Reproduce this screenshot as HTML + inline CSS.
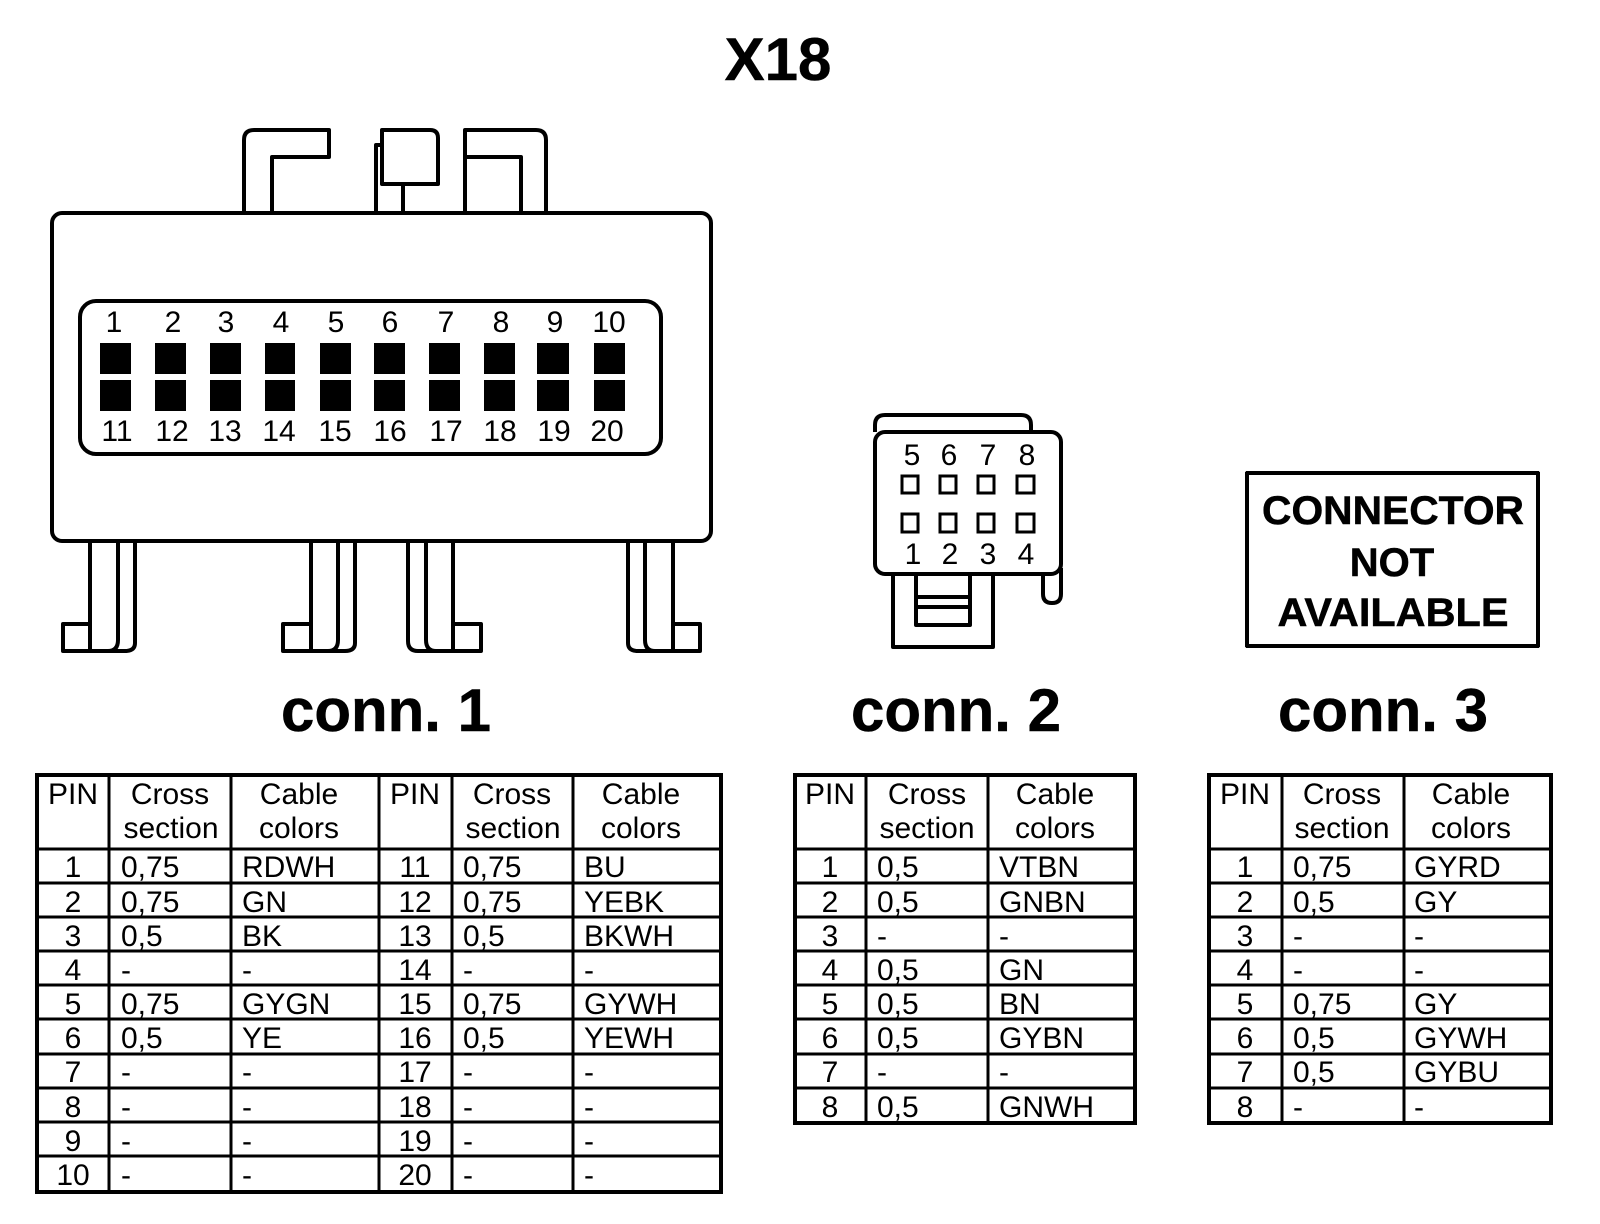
<!DOCTYPE html>
<html><head><meta charset="utf-8"><style>
html,body{margin:0;padding:0;background:#fff}
svg{display:block}
text{font-family:"Liberation Sans",Arial,sans-serif;fill:#000}
.t{font-size:30px}
.p{font-size:30px;text-anchor:middle}
.m{text-anchor:middle}
.b{font-weight:bold;stroke:#000;stroke-width:.5}
.l{fill:none;stroke:#000;stroke-width:4;stroke-linejoin:round}
.g{stroke:#000;stroke-width:3.4;fill:none;shape-rendering:crispEdges}
</style></head><body>
<svg width="1600" height="1224" viewBox="0 0 1600 1224" xmlns="http://www.w3.org/2000/svg">
<text x="778" y="80" class="b m" font-size="60">X18</text>

<!-- connector 1 -->
<path class="l" d="M244 212V140Q244 130 254 130H329V157H272V212"/>
<path class="l" d="M376 212V145H382M403 184V212"/>
<path class="l" d="M382 130H430Q438 130 438 138V184H382Z"/>
<path class="l" d="M465 212V130H536Q546 130 546 140V212M465 157H521V212"/>
<rect class="l" x="52" y="213" width="659" height="328" rx="10"/>
<rect class="l" x="80" y="301" width="581" height="153" rx="16"/>
<g fill="#000" shape-rendering="crispEdges">
<rect x="100" y="343" width="31" height="31"/><rect x="155" y="343" width="31" height="31"/><rect x="210" y="343" width="31" height="31"/><rect x="265" y="343" width="30" height="31"/><rect x="320" y="343" width="31" height="31"/><rect x="374" y="343" width="31" height="31"/><rect x="429" y="343" width="31" height="31"/><rect x="484" y="343" width="31" height="31"/><rect x="537" y="343" width="32" height="31"/><rect x="594" y="343" width="31" height="31"/>
<rect x="100" y="380" width="31" height="31"/><rect x="155" y="380" width="31" height="31"/><rect x="210" y="380" width="31" height="31"/><rect x="265" y="380" width="30" height="31"/><rect x="320" y="380" width="31" height="31"/><rect x="374" y="380" width="31" height="31"/><rect x="429" y="380" width="31" height="31"/><rect x="484" y="380" width="31" height="31"/><rect x="537" y="380" width="32" height="31"/><rect x="594" y="380" width="31" height="31"/>
</g>
<text class="p" x="114" y="332">1</text><text class="p" x="173" y="332">2</text><text class="p" x="226" y="332">3</text><text class="p" x="281" y="332">4</text><text class="p" x="336" y="332">5</text><text class="p" x="390" y="332">6</text><text class="p" x="446" y="332">7</text><text class="p" x="501" y="332">8</text><text class="p" x="555" y="332">9</text><text class="p" x="609" y="332">10</text>
<text class="p" x="117" y="441">11</text><text class="p" x="172" y="441">12</text><text class="p" x="225" y="441">13</text><text class="p" x="279" y="441">14</text><text class="p" x="335" y="441">15</text><text class="p" x="390" y="441">16</text><text class="p" x="446" y="441">17</text><text class="p" x="500" y="441">18</text><text class="p" x="554" y="441">19</text><text class="p" x="607" y="441">20</text>
<!-- feet -->
<path class="l" d="M90 541V651M118 541V640Q118 651 108 651M135 541V643Q135 651 125 651H63V624H90"/>
<path class="l" d="M311 541V651M338 541V640Q338 651 328 651M355 541V643Q355 651 345 651H283V624H311"/>
<path class="l" d="M453 541V651M426 541V640Q426 651 436 651M408 541V641Q408 651 418 651H481V624H453"/>
<path class="l" d="M673 541V651M645 541V640Q645 651 655 651M628 541V643Q628 651 638 651H700V624H673"/>

<!-- connector 2 -->
<path class="l" d="M875 432V425Q875 415 885 415H1021Q1031 415 1031 425V433"/>
<rect class="l" x="875" y="432" width="186" height="142" rx="10"/>
<path class="l" d="M893 575V647H993V575M916 575V625H970V575M916 597H970M916 607H970"/>
<path class="l" d="M1043 575V594Q1043 603 1052 603Q1061 603 1061 594V568"/>
<g class="g" stroke-width="3.5">
<rect x="902" y="476" width="16" height="17"/><rect x="940" y="476" width="16" height="17"/><rect x="978" y="476" width="16" height="17"/><rect x="1017" y="476" width="17" height="17"/>
<rect x="902" y="514" width="16" height="18"/><rect x="940" y="514" width="16" height="18"/><rect x="978" y="514" width="16" height="18"/><rect x="1017" y="514" width="17" height="18"/>
</g>
<text class="p" x="912" y="465">5</text><text class="p" x="949" y="465">6</text><text class="p" x="988" y="465">7</text><text class="p" x="1027" y="465">8</text>
<text class="p" x="913" y="564">1</text><text class="p" x="950" y="564">2</text><text class="p" x="988" y="564">3</text><text class="p" x="1026" y="564">4</text>

<!-- connector 3 -->
<rect class="l" x="1247" y="473" width="291" height="173" style="shape-rendering:crispEdges"/>
<text x="1400" y="524" class="b m" font-size="40" textLength="262" lengthAdjust="spacingAndGlyphs" dx="-7">CONNECTOR</text>
<text x="1399" y="576" class="b m" font-size="40" dx="-7">NOT</text>
<text x="1400" y="626" class="b m" font-size="40" textLength="231" lengthAdjust="spacingAndGlyphs" dx="-7">AVAILABLE</text>

<text x="386" y="731" class="b m" font-size="60">conn. 1</text>
<text x="956" y="731" class="b m" font-size="60">conn. 2</text>
<text x="1383" y="731" class="b m" font-size="60">conn. 3</text>

<!-- table 1 -->
<g class="g">
<rect x="37" y="775" width="684" height="417" stroke-width="4"/>
<path d="M109 775V1192M231 775V1192M379 775V1192M452 775V1192M573 775V1192"/>
<path d="M37 849H721M37 883H721M37 917H721M37 951H721M37 985H721M37 1019H721M37 1054H721M37 1088H721M37 1122H721M37 1156H721"/>
</g>
<g transform="translate(0,-1.5)">
<text class="p" x="73" y="805.5">PIN</text><text class="p" x="170" y="805.5">Cross</text><text class="p" x="171" y="839.5">section</text><text class="p" x="299" y="805.5">Cable</text><text class="p" x="299" y="839.5">colors</text>
<text class="p" x="415" y="805.5">PIN</text><text class="p" x="512" y="805.5">Cross</text><text class="p" x="513" y="839.5">section</text><text class="p" x="641" y="805.5">Cable</text><text class="p" x="641" y="839.5">colors</text>
<g class="t" transform="translate(0,0.7)">
<text class="p" x="73" y="878">1</text><text x="121" y="878">0,75</text><text x="242" y="878">RDWH</text><text class="p" x="415" y="878">11</text><text x="463" y="878">0,75</text><text x="584" y="878">BU</text>
<text class="p" x="73" y="913">2</text><text x="121" y="913">0,75</text><text x="242" y="913">GN</text><text class="p" x="415" y="913">12</text><text x="463" y="913">0,75</text><text x="584" y="913">YEBK</text>
<text class="p" x="73" y="947">3</text><text x="121" y="947">0,5</text><text x="242" y="947">BK</text><text class="p" x="415" y="947">13</text><text x="463" y="947">0,5</text><text x="584" y="947">BKWH</text>
<text class="p" x="73" y="981">4</text><text x="121" y="981">-</text><text x="242" y="981">-</text><text class="p" x="415" y="981">14</text><text x="463" y="981">-</text><text x="584" y="981">-</text>
<text class="p" x="73" y="1015">5</text><text x="121" y="1015">0,75</text><text x="242" y="1015">GYGN</text><text class="p" x="415" y="1015">15</text><text x="463" y="1015">0,75</text><text x="584" y="1015">GYWH</text>
<text class="p" x="73" y="1049">6</text><text x="121" y="1049">0,5</text><text x="242" y="1049">YE</text><text class="p" x="415" y="1049">16</text><text x="463" y="1049">0,5</text><text x="584" y="1049">YEWH</text>
<text class="p" x="73" y="1083">7</text><text x="121" y="1083">-</text><text x="242" y="1083">-</text><text class="p" x="415" y="1083">17</text><text x="463" y="1083">-</text><text x="584" y="1083">-</text>
<text class="p" x="73" y="1118">8</text><text x="121" y="1118">-</text><text x="242" y="1118">-</text><text class="p" x="415" y="1118">18</text><text x="463" y="1118">-</text><text x="584" y="1118">-</text>
<text class="p" x="73" y="1152">9</text><text x="121" y="1152">-</text><text x="242" y="1152">-</text><text class="p" x="415" y="1152">19</text><text x="463" y="1152">-</text><text x="584" y="1152">-</text>
<text class="p" x="73" y="1186">10</text><text x="121" y="1186">-</text><text x="242" y="1186">-</text><text class="p" x="415" y="1186">20</text><text x="463" y="1186">-</text><text x="584" y="1186">-</text>
</g>
</g>

<!-- table 2 -->
<g class="g">
<rect x="795" y="775" width="340" height="348" stroke-width="4"/>
<path d="M866 775V1123M988 775V1123"/>
<path d="M795 849H1135M795 883H1135M795 917H1135M795 951H1135M795 985H1135M795 1019H1135M795 1054H1135M795 1088H1135"/>
</g>
<g transform="translate(0,-1.5)">
<text class="p" x="830" y="805.5">PIN</text><text class="p" x="927" y="805.5">Cross</text><text class="p" x="927" y="839.5">section</text><text class="p" x="1055" y="805.5">Cable</text><text class="p" x="1055" y="839.5">colors</text>
<g class="t" transform="translate(0,0.7)">
<text class="p" x="830" y="878">1</text><text x="877" y="878">0,5</text><text x="999" y="878">VTBN</text>
<text class="p" x="830" y="913">2</text><text x="877" y="913">0,5</text><text x="999" y="913">GNBN</text>
<text class="p" x="830" y="947">3</text><text x="877" y="947">-</text><text x="999" y="947">-</text>
<text class="p" x="830" y="981">4</text><text x="877" y="981">0,5</text><text x="999" y="981">GN</text>
<text class="p" x="830" y="1015">5</text><text x="877" y="1015">0,5</text><text x="999" y="1015">BN</text>
<text class="p" x="830" y="1049">6</text><text x="877" y="1049">0,5</text><text x="999" y="1049">GYBN</text>
<text class="p" x="830" y="1083">7</text><text x="877" y="1083">-</text><text x="999" y="1083">-</text>
<text class="p" x="830" y="1118">8</text><text x="877" y="1118">0,5</text><text x="999" y="1118">GNWH</text>
</g>
</g>

<!-- table 3 -->
<g class="g">
<rect x="1209" y="775" width="342" height="348" stroke-width="4"/>
<path d="M1282 775V1123M1404 775V1123"/>
<path d="M1209 849H1551M1209 883H1551M1209 917H1551M1209 951H1551M1209 985H1551M1209 1019H1551M1209 1054H1551M1209 1088H1551"/>
</g>
<g transform="translate(0,-1.5)">
<text class="p" x="1245" y="805.5">PIN</text><text class="p" x="1342" y="805.5">Cross</text><text class="p" x="1342" y="839.5">section</text><text class="p" x="1471" y="805.5">Cable</text><text class="p" x="1471" y="839.5">colors</text>
<g class="t" transform="translate(0,0.7)">
<text class="p" x="1245" y="878">1</text><text x="1293" y="878">0,75</text><text x="1414" y="878">GYRD</text>
<text class="p" x="1245" y="913">2</text><text x="1293" y="913">0,5</text><text x="1414" y="913">GY</text>
<text class="p" x="1245" y="947">3</text><text x="1293" y="947">-</text><text x="1414" y="947">-</text>
<text class="p" x="1245" y="981">4</text><text x="1293" y="981">-</text><text x="1414" y="981">-</text>
<text class="p" x="1245" y="1015">5</text><text x="1293" y="1015">0,75</text><text x="1414" y="1015">GY</text>
<text class="p" x="1245" y="1049">6</text><text x="1293" y="1049">0,5</text><text x="1414" y="1049">GYWH</text>
<text class="p" x="1245" y="1083">7</text><text x="1293" y="1083">0,5</text><text x="1414" y="1083">GYBU</text>
<text class="p" x="1245" y="1118">8</text><text x="1293" y="1118">-</text><text x="1414" y="1118">-</text>
</g>
</g>
</svg>
</body></html>
